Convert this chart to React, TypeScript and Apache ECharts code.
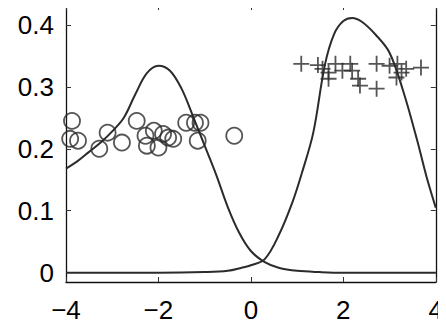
import React, { useEffect, useRef } from "react";
import * as echarts from "echarts";

// Curve samples: [x, density]
const leftCurve: [number, number][] = [
  [-4, 0.168], [-3.75, 0.18], [-3.5, 0.195], [-3.25, 0.21], [-3.0, 0.228],
  [-2.75, 0.25], [-2.5, 0.288], [-2.25, 0.322], [-2.0, 0.334], [-1.75, 0.326],
  [-1.5, 0.297], [-1.25, 0.252], [-1.0, 0.205], [-0.75, 0.158], [-0.5, 0.106],
  [-0.25, 0.064], [0, 0.035], [0.3, 0.017], [0.6, 0.008], [1.0, 0.003],
  [1.5, 0.001], [2.0, 0], [3.0, 0], [4.0, 0],
];
const rightCurve: [number, number][] = [
  [-4, 0], [-3, 0], [-2, 0], [-1, 0.001], [-0.5, 0.003], [-0.2, 0.008],
  [0.0, 0.012], [0.3, 0.022], [0.6, 0.06], [0.9, 0.114], [1.1, 0.16],
  [1.35, 0.226], [1.6, 0.335], [1.8, 0.385], [2.0, 0.406], [2.19, 0.411],
  [2.4, 0.405], [2.7, 0.384], [3.0, 0.355], [3.3, 0.292], [3.6, 0.213],
  [3.8, 0.155], [4.0, 0.105],
];
// Circle markers (class 1)
const circles: [number, number][] = [
  [-3.87, 0.245], [-3.91, 0.216], [-3.74, 0.213], [-3.28, 0.2], [-3.1, 0.226],
  [-2.79, 0.21], [-2.47, 0.245], [-2.28, 0.221], [-2.25, 0.205], [-2.1, 0.229],
  [-2.0, 0.202], [-1.9, 0.224], [-1.79, 0.218], [-1.68, 0.216], [-1.4, 0.242],
  [-1.21, 0.242], [-1.09, 0.242], [-1.15, 0.213], [-0.36, 0.221],
];
// Plus markers (class 2)
const pluses: [number, number][] = [
  [1.09, 0.337], [1.45, 0.335], [1.55, 0.329], [1.68, 0.323], [1.68, 0.313],
  [1.83, 0.337], [1.98, 0.326], [2.15, 0.337], [2.19, 0.326], [2.32, 0.313],
  [2.36, 0.302], [2.72, 0.297], [2.72, 0.337], [3.0, 0.334], [3.17, 0.337],
  [3.26, 0.323], [3.15, 0.315], [3.36, 0.329], [3.68, 0.331],
];
const xTicks = [-4, -2, 0, 2, 4];
const yTicks = [0, 0.1, 0.2, 0.3, 0.4];

const FONT = "Liberation Sans";
const INK = "#2b2b2b";

export default function App() {
  const ref = useRef<HTMLDivElement>(null);
  useEffect(() => {
    if (!ref.current) return;
    const chart = echarts.init(ref.current, null, { renderer: "svg" });
    const axisLine = { show: true, onZero: false, lineStyle: { color: "#111", width: 1.3 } };
    const tick = (vals: number[]) => ({
      show: true, inside: true, length: 5, customValues: vals,
      lineStyle: { color: "#333", width: 1 },
    });
    chart.setOption({
      animation: false,
      backgroundColor: "#fff",
      grid: { left: 66, right: 4, top: 5, bottom: 53 },
      xAxis: [
        {
          type: "value", min: -4, max: 4, position: "bottom",
          axisLine, axisTick: tick(xTicks), splitLine: { show: false },
          axisLabel: {
            customValues: xTicks, margin: 15, color: "#000", fontFamily: FONT, fontSize: 26,
            formatter: (v: number) => (v < 0 ? "\u2212" + Math.abs(v) : String(v)),
          },
        },
        {
          type: "value", min: -4, max: 4, position: "top",
          axisLine, axisTick: tick(xTicks), splitLine: { show: false },
          axisLabel: { show: false },
        },
      ],
      yAxis: [
        {
          type: "value", min: -0.015, max: 0.432, position: "left",
          axisLine, axisTick: tick(yTicks), splitLine: { show: false },
          axisLabel: {
            customValues: yTicks, margin: 12, color: "#000", fontFamily: FONT, fontSize: 26,
            formatter: (v: number) => (Math.abs(v) < 1e-9 ? "0" : v.toFixed(1)),
          },
        },
        {
          type: "value", min: -0.015, max: 0.432, position: "right",
          axisLine, axisTick: tick(yTicks), splitLine: { show: false },
          axisLabel: { show: false },
        },
      ],
      series: [
        {
          type: "line", data: leftCurve, smooth: 0.35, showSymbol: false,
          lineStyle: { color: INK, width: 2 }, z: 3,
        },
        {
          type: "line", data: rightCurve, smooth: 0.35, showSymbol: false,
          lineStyle: { color: INK, width: 2 }, z: 3,
        },
        {
          type: "scatter", data: circles, symbol: "circle", symbolSize: 16,
          itemStyle: { color: "rgba(0,0,0,0)", borderColor: INK, borderWidth: 1.8 }, z: 4,
        },
        {
          type: "scatter", data: pluses,
          symbol: "path://M10,0 L10,20 M0,10 L20,10", symbolSize: 16,
          itemStyle: { color: "none", borderColor: INK, borderWidth: 1.8 }, z: 4,
        },
      ],
    });
    return () => chart.dispose();
  }, []);
  return <div ref={ref} style={{ width: 446, height: 335, marginLeft: -8, marginTop: -8 }} />;
}
